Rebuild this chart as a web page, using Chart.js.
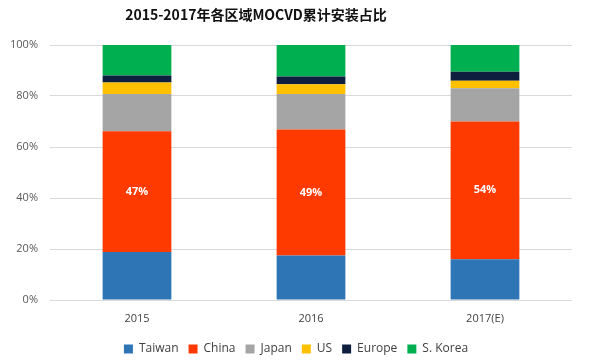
<!DOCTYPE html>
<html>
<head>
<meta charset="utf-8">
<script src="https://cdn.jsdelivr.net/npm/chart.js@4"></script>
<style>
  body { margin: 0; background: #fff; }
  .wrap { position: relative; width: 600px; height: 360px; }
  .title {
    position: absolute; left: 0; width: 512px; top: 4px;
    text-align: center;
    font: bold 14px "Noto Sans CJK SC", sans-serif;
    color: #111;
  }
</style>
</head>
<body>
<div class="wrap">
  <div class="title">2015-2017年各区域MOCVD累计安装占比</div>
  <canvas id="chart" width="600" height="360"></canvas>
</div>
<script>
const years = ["2015", "2016", "2017(E)"];
const taiwan = [18.8, 17.5, 16];
const china = [47.4, 49.4, 54];
const japan = [14.6, 13.9, 13];
const us = [4.5, 3.8, 3];
const europe = [2.7, 3.0, 3.5];
const korea = [12.0, 12.4, 10.5];
const yTicks = [0, 20, 40, 60, 80, 100];

const ctx = document.getElementById("chart");

// white percentage label inside the China segment
const chinaLabels = {
  id: "chinaLabels",
  afterDatasetsDraw(chart) {
    const meta = chart.getDatasetMeta(1);
    const c = chart.ctx;
    c.save();
    c.font = "bold 11px 'Open Sans', sans-serif";
    c.fillStyle = "#ffffff";
    c.textAlign = "center";
    c.textBaseline = "middle";
    meta.data.forEach((bar, i) => {
      const mid = (bar.y + bar.base) / 2;
      c.fillText(Math.round(china[i]) + "%", bar.x, mid);
    });
    c.restore();
  }
};

const series = [
  { label: "Taiwan", data: taiwan, color: "#2E75B6" },
  { label: "China", data: china, color: "#FF3A00" },
  { label: "Japan", data: japan, color: "#A5A5A5" },
  { label: "US", data: us, color: "#FFC000" },
  { label: "Europe", data: europe, color: "#0E1E3E" },
  { label: "S. Korea", data: korea, color: "#00B050" },
];

new Chart(ctx, {
  type: "bar",
  data: {
    labels: years,
    datasets: series.map((s) => ({
      label: s.label,
      data: s.data,
      backgroundColor: s.color,
      borderWidth: 0,
      barPercentage: 0.395,
      categoryPercentage: 1,
    })),
  },
  options: {
    responsive: false,
    animation: false,
    layout: { padding: { left: 0, right: 8, top: 45, bottom: -5 } },
    plugins: {
      tooltip: { enabled: false },
      legend: {
        position: "bottom",
        labels: {
          boxWidth: 9,
          boxHeight: 9,
          padding: 10,
          color: "#404040",
          font: { family: "'Open Sans', sans-serif", size: 12 },
        },
      },
    },
    scales: {
      x: {
        stacked: true,
        afterFit: (axis) => { axis.height = 33; },
        grid: { display: false },
        border: { display: false },
        ticks: {
          color: "#404040",
          padding: 4,
          font: { family: "'Open Sans', sans-serif", size: 11 },
        },
      },
      y: {
        stacked: true,
        min: 0,
        max: 100,
        afterFit: (axis) => { axis.width = 50; },
        afterBuildTicks: (axis) => { axis.ticks = yTicks.map((v) => ({ value: v })); },
        grid: { color: "#d9d9d9", drawTicks: false },
        border: { display: false },
        ticks: {
          color: "#595959",
          padding: 12,
          font: { family: "'Open Sans', sans-serif", size: 11 },
          callback: (v) => v + "%",
        },
      },
      // empty right-hand spacer so the legend sits centred like the original
      spacer: {
        position: "right",
        min: 0,
        max: 100,
        afterFit: (axis) => { axis.width = 20; },
        grid: { display: false },
        border: { display: false },
        ticks: { display: false },
      },
    },
  },
  plugins: [chinaLabels],
});
</script>
</body>
</html>
